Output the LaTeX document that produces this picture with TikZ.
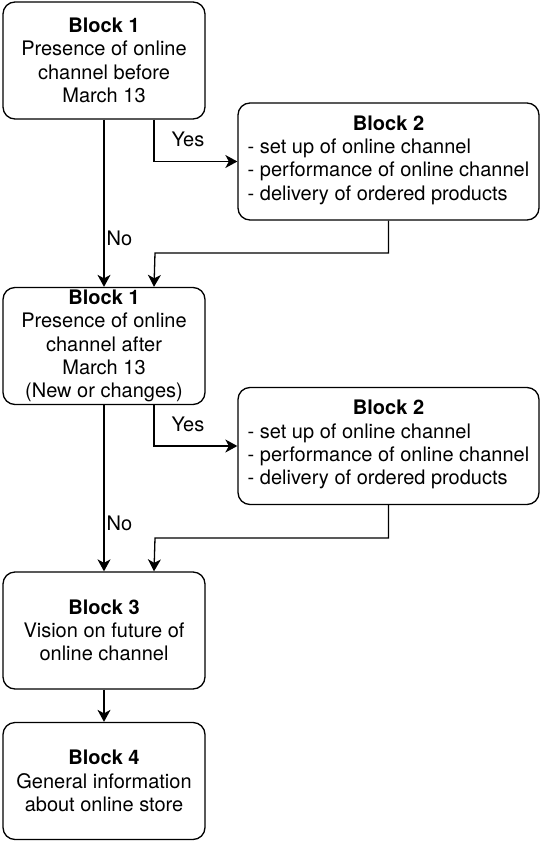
\documentclass[tikz,border=0pt]{standalone}
\usepackage{fontspec}
\setmainfont{TeX Gyre Heros}
\usetikzlibrary{arrows.meta,positioning,calc}

\tikzset{
  blockbox/.style={rectangle,
    rounded corners=12pt,
    draw=black,
    line width=1.3pt,
    fill=white,
    align=center,
    inner sep=1pt,
    minimum width=202pt,
    minimum height=117pt,
    font=\fontsize{20pt}{23.3pt}\selectfont},
  widebox/.style={blockbox, minimum width=301pt},
  flow/.style={line width=1.3pt, -{Stealth[length=12pt,width=13pt,inset=3.5pt]}},
  lbl/.style={font=\fontsize{20pt}{23.3pt}\selectfont, inner sep=2pt}
}

\begin{document}
\begin{tikzpicture}[x=1pt,y=-1pt]
\useasboundingbox (0,0) rectangle (541,841);

% blocks
\node[blockbox] (b1a) at (104,60.5) {\textbf{Block 1}\\Presence of online\\channel before\\March 13};
\node[widebox] (b2a) at (388.5,161.5) {\textbf{Block 2}\\\begin{tabular}[t]{@{}l@{}}- set up of online channel\\- performance of online channel\\- delivery of ordered products\end{tabular}};

\node[blockbox] (b1b) at (104,346) {\textbf{Block 1}\\Presence of online\\channel after\\March 13\\(New or changes)};
\node[widebox] (b2b) at (388.5,446) {\textbf{Block 2}\\\begin{tabular}[t]{@{}l@{}}- set up of online channel\\- performance of online channel\\- delivery of ordered products\end{tabular}};

\node[blockbox] (b3) at (104,630.5) {\textbf{Block 3}\\Vision on future of\\online channel};
\node[blockbox] (b4) at (104,781) {\textbf{Block 4}\\General information\\about online store};

% turning points
\coordinate (j1) at (155,253);
\coordinate (j2) at (155,538);

% connectors
\draw[flow] (b1a.south) -- node[lbl, right, pos=0.71] {No} (b1b.north);
\draw[flow] ([xshift=50pt]b1a.south) |- node[lbl, pos=0.5, anchor=south west, xshift=15pt, yshift=12pt] {Yes} (b2a.west);
\draw[flow] (b2a.south) |- (j1) -- ([xshift=50pt]b1b.north);

\draw[flow] (b1b.south) -- node[lbl, right, pos=0.71] {No} (b3.north);
\draw[flow] ([xshift=50pt]b1b.south) |- node[lbl, pos=0.5, anchor=south west, xshift=15pt, yshift=12pt] {Yes} (b2b.west);
\draw[flow] (b2b.south) |- (j2) -- ([xshift=50pt]b3.north);

\draw[flow] (b3) -- (b4);

\end{tikzpicture}
\end{document}
